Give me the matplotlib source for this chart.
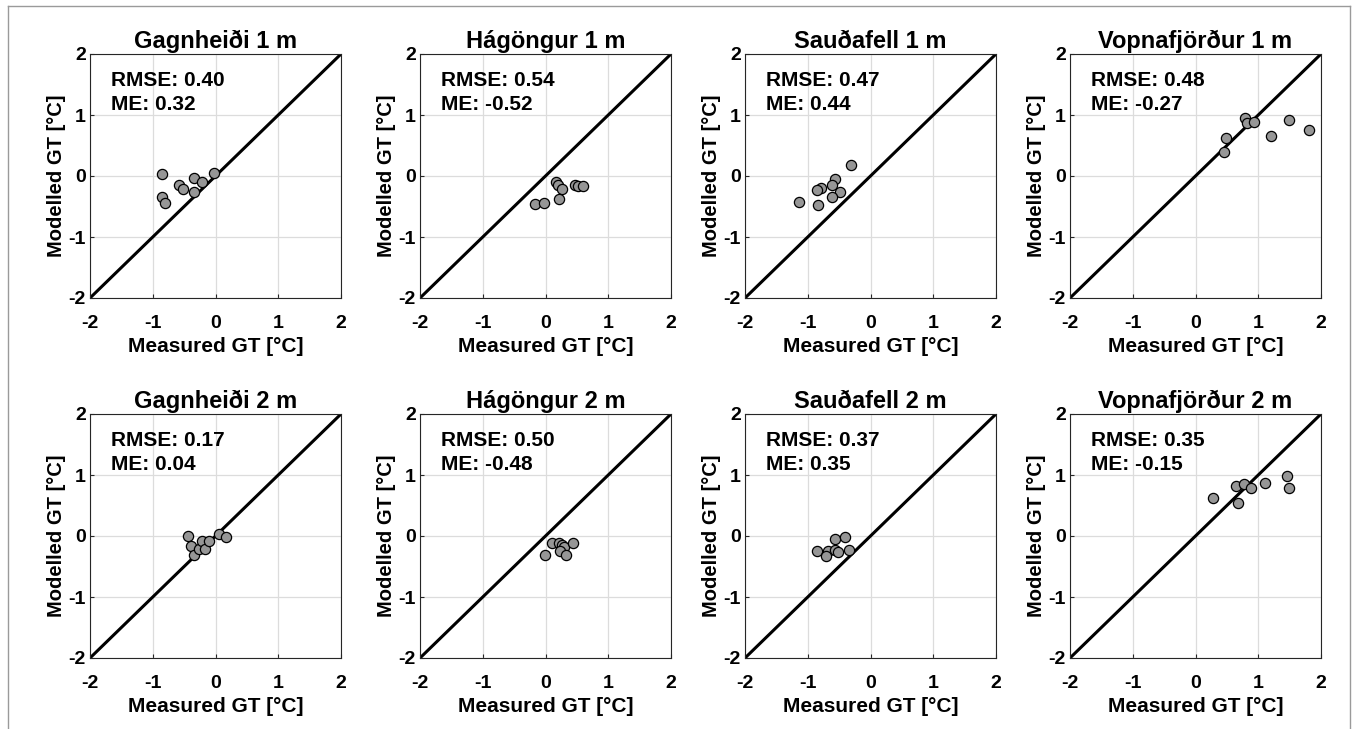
import numpy as np
import matplotlib
matplotlib.use('Agg')
import matplotlib.pyplot as plt
from matplotlib.lines import Line2D

plt.rcParams['font.family'] = ['Liberation Sans', 'DejaVu Sans']
plt.rcParams['font.weight'] = 'bold'
plt.rcParams['axes.unicode_minus'] = False

# Títulos y estadísticas de cada panel
titulos = ['Gagnheiði 1 m', 'Hágöngur 1 m', 'Sauðafell 1 m', 'Vopnafjörður 1 m',
           'Gagnheiði 2 m', 'Hágöngur 2 m', 'Sauðafell 2 m', 'Vopnafjörður 2 m']
rmse = [0.40, 0.54, 0.47, 0.48, 0.17, 0.50, 0.37, 0.35]
me = [0.32, -0.52, 0.44, -0.27, 0.04, -0.48, 0.35, -0.15]

gag1_x = [-0.86, -0.86, -0.81, -0.58, -0.51, -0.35, -0.22, -0.34, -0.02]
gag1_y = [0.03, -0.34, -0.44, -0.15, -0.21, -0.04, -0.10, -0.26, 0.05]
hag1_x = [0.16, 0.20, 0.26, 0.47, 0.51, 0.59, 0.21, -0.17, -0.02]
hag1_y = [-0.10, -0.15, -0.21, -0.15, -0.16, -0.16, -0.38, -0.46, -0.45]
sau1_x = [-0.31, -0.57, -0.61, -0.79, -0.86, -0.49, -0.62, -0.83, -1.14]
sau1_y = [0.18, -0.05, -0.15, -0.20, -0.23, -0.27, -0.35, -0.47, -0.43]
vop1_x = [0.79, 0.82, 0.94, 0.49, 0.45, 1.21, 1.49, 1.81]
vop1_y = [0.95, 0.87, 0.88, 0.62, 0.39, 0.65, 0.92, 0.76]

gag2_x = [-0.44, -0.39, -0.34, -0.27, -0.21, -0.16, -0.11, 0.06, 0.16]
gag2_y = [0.00, -0.17, -0.31, -0.22, -0.09, -0.22, -0.08, 0.04, -0.02]
hag2_x = [0.10, 0.21, 0.26, 0.29, 0.23, 0.32, 0.44, -0.01]
hag2_y = [-0.12, -0.12, -0.15, -0.18, -0.25, -0.31, -0.12, -0.31]
sau2_x = [-0.56, -0.41, -0.85, -0.67, -0.71, -0.57, -0.51, -0.34]
sau2_y = [-0.05, -0.02, -0.25, -0.25, -0.32, -0.23, -0.26, -0.23]
vop2_x = [0.64, 0.78, 0.89, 1.11, 1.46, 1.49, 0.28, 0.67]
vop2_y = [0.82, 0.86, 0.79, 0.87, 0.98, 0.79, 0.62, 0.54]

datos_x = [gag1_x, hag1_x, sau1_x, vop1_x, gag2_x, hag2_x, sau2_x, vop2_x]
datos_y = [gag1_y, hag1_y, sau1_y, vop1_y, gag2_y, hag2_y, sau2_y, vop2_y]

W, H = 1357, 729
fig = plt.figure(figsize=(W / 100, H / 100), dpi=100)

izq = [90, 420, 745, 1070]
arriba = [54, 414]
ancho, alto = 251, 244

for k in range(8):
    fila, col = divmod(k, 4)
    x0 = izq[col] / W
    y0 = 1 - (arriba[fila] + alto) / H
    ax = fig.add_axes([x0, y0, ancho / W, alto / H])

    ax.plot([-2, 2], [-2, 2], color='black', lw=2.2, zorder=2)
    ax.scatter(datos_x[k], datos_y[k], s=54, facecolor='#969696',
               edgecolor='black', linewidth=0.9, zorder=3)

    ax.set_xlim(-2, 2)
    ax.set_ylim(-2, 2)
    ax.set_xticks([-2, -1, 0, 1, 2])
    ax.set_yticks([-2, -1, 0, 1, 2])
    ax.grid(True, color='#dcdcdc', lw=0.9)
    ax.set_axisbelow(True)
    ax.tick_params(direction='in', length=3, width=0.8, labelsize=14,
                   color='#262626')
    ax.tick_params(axis='x', pad=12)
    ax.tick_params(axis='y', pad=3)
    for sp in ax.spines.values():
        sp.set_color('#262626')
        sp.set_linewidth(0.8)

    ax.set_title(titulos[k], fontsize=17, fontweight='bold', pad=4)
    ax.set_xlabel('Measured GT [°C]', fontsize=15, fontweight='bold', labelpad=4)
    ax.set_ylabel('Modelled GT [°C]', fontsize=14.5, fontweight='bold', labelpad=2)

    ax.text(0.084, 0.93, 'RMSE: %.2f\nME: %.2f' % (rmse[k], me[k]),
            transform=ax.transAxes, fontsize=15, fontweight='bold',
            va='top', ha='left', linespacing=1.3)

# Marco de la imagen
borde = '#9a9a9a'
fig.add_artist(Line2D([8 / W, 8 / W], [0, 1 - 6 / H], color=borde, lw=1))
fig.add_artist(Line2D([1350 / W, 1350 / W], [0, 1 - 6 / H], color=borde, lw=1))
fig.add_artist(Line2D([8 / W, 1350 / W], [1 - 6 / H, 1 - 6 / H], color=borde, lw=1))

fig.savefig('out.png', dpi=100)
